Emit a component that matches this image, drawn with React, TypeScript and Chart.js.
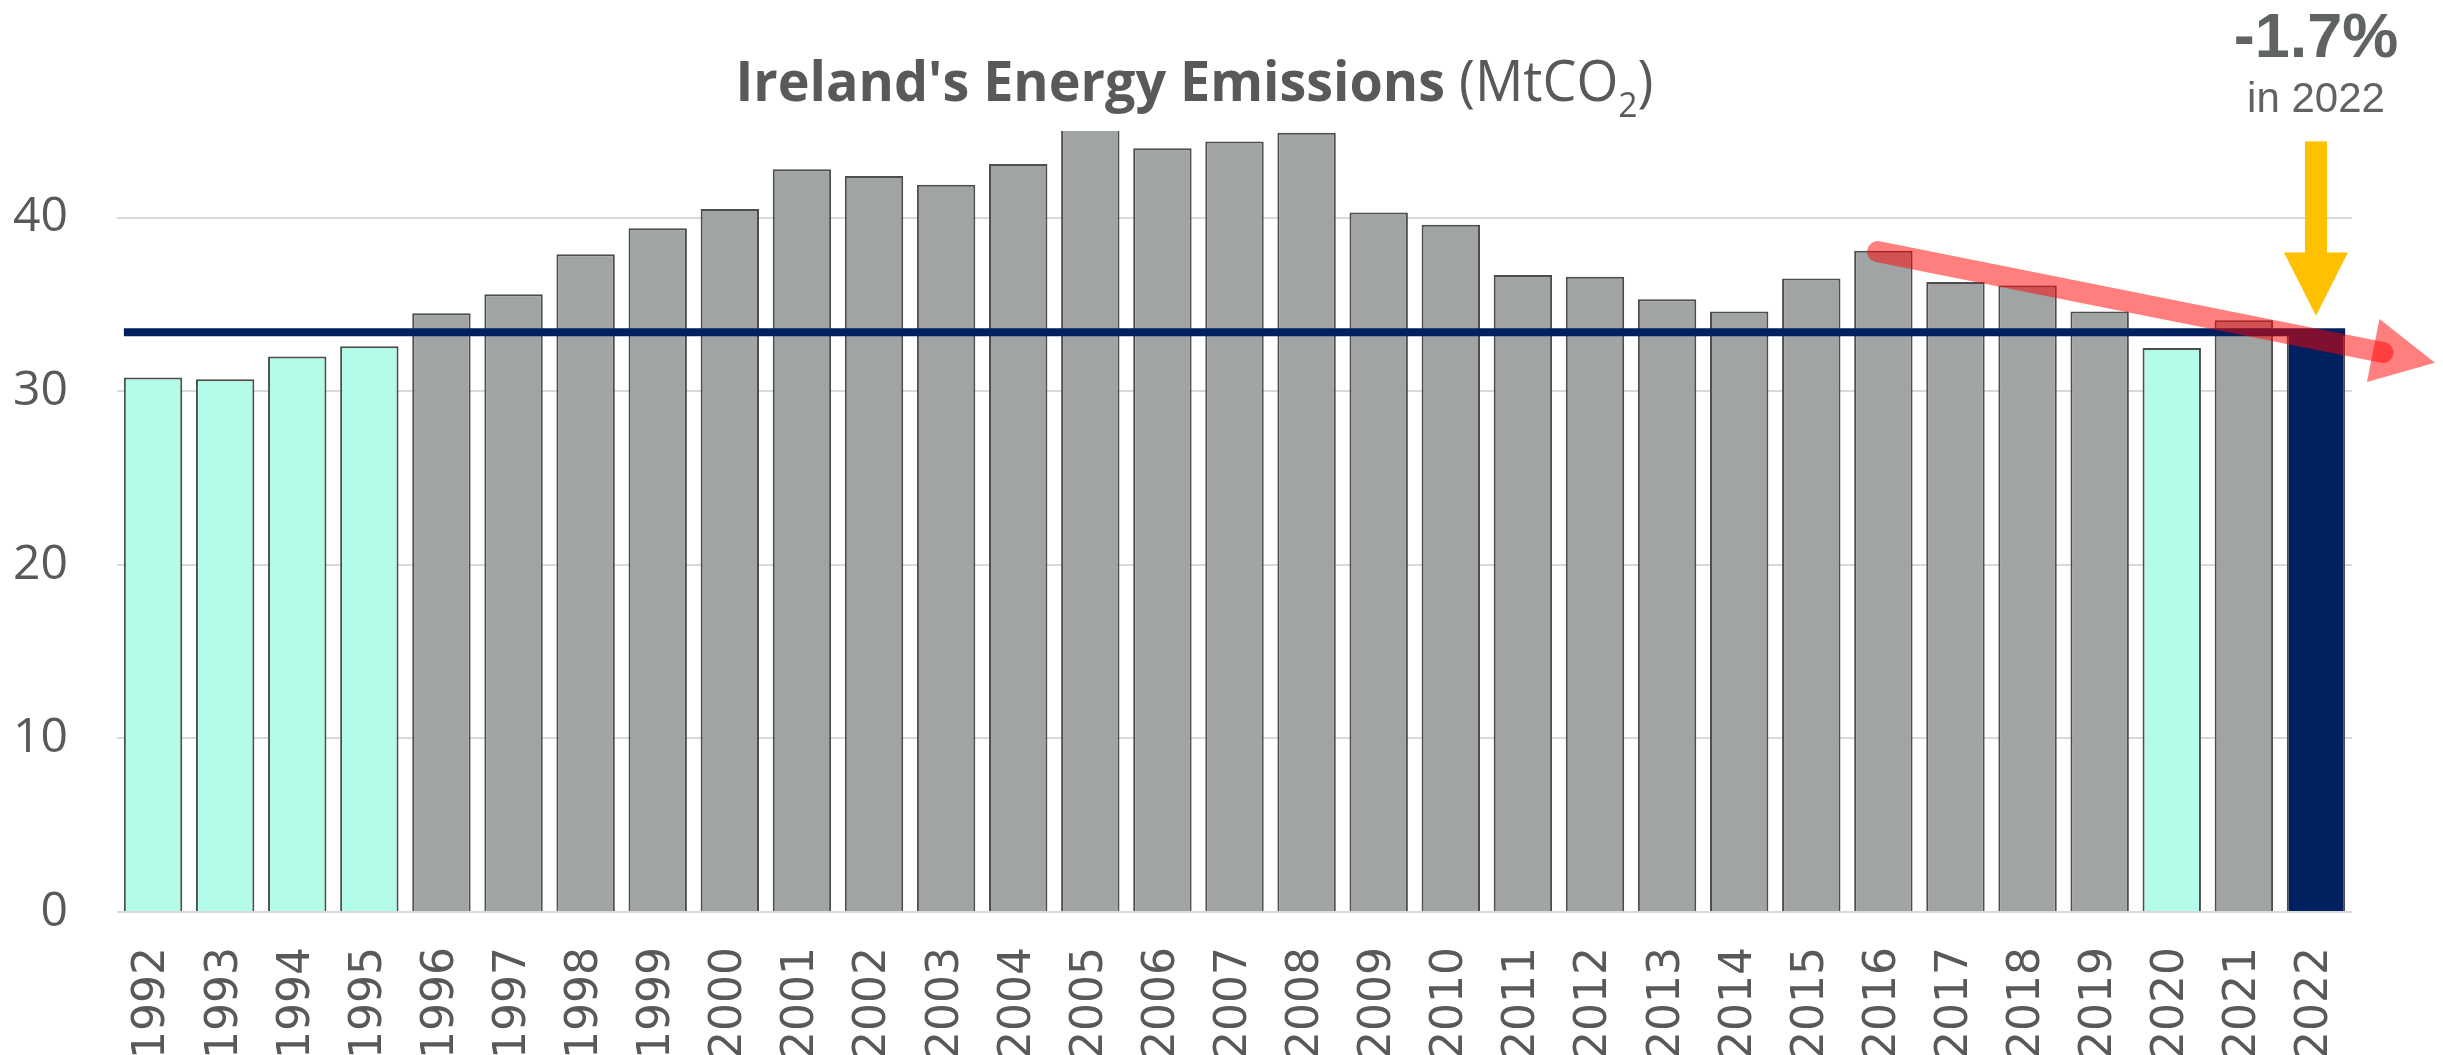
import React, { useEffect, useRef } from 'react';
import { Chart, registerables } from 'chart.js';

Chart.register(...registerables);

// ---- data ----
const years = [
  '1992', '1993', '1994', '1995', '1996', '1997', '1998', '1999', '2000', '2001',
  '2002', '2003', '2004', '2005', '2006', '2007', '2008', '2009', '2010', '2011',
  '2012', '2013', '2014', '2015', '2016', '2017', '2018', '2019', '2020', '2021', '2022',
];
const emissions = [
  30.8, 30.7, 32.0, 32.6, 34.5, 35.6, 37.9, 39.4, 40.5, 42.8,
  42.4, 41.9, 43.1, 45.2, 44.0, 44.4, 44.9, 40.3, 39.6, 36.7,
  36.6, 35.3, 34.6, 36.5, 38.1, 36.3, 36.1, 34.6, 32.5, 34.1, 33.4,
];
const lowYears = ['1992', '1993', '1994', '1995', '2020'];
const yTickValues = [0, 10, 20, 30, 40];
const yMax = 45;

const titleBold = "Ireland's Energy Emissions";
const titleUnit = '(MtCO';
const titleSub = '2';
const titleClose = ')';
const changeLabel = '-1.7%';
const changeYearLabel = 'in 2022';

// annotation anchors (category index, value)
const trendStart = { index: 23.92, value: 38.05 };
const trendEnd = { index: 30.93, value: 32.24 };
const pointerValues = { top: 44.4, headBase: 38.0, tip: 34.35 };

// ---- styles ----
const TEAL = '#B4FCEA';
const GRAY = '#A0A4A5';
const NAVY = '#002060';
const TEXT = '#595959';
const latestYear = years[years.length - 1];
const barColors = years.map((y) => (y === latestYear ? NAVY : lowYears.includes(y) ? TEAL : GRAY));

const overlayPlugin = {
  id: 'overlay',
  afterDatasetsDraw(chart: any) {
    const { ctx } = chart;
    const yScale = chart.scales.y;
    const meta = chart.getDatasetMeta(0);
    const first: any = meta.data[0];
    const last: any = meta.data[meta.data.length - 1];
    const yy = yScale.getPixelForValue(emissions[emissions.length - 1]);
    ctx.save();
    ctx.strokeStyle = NAVY;
    ctx.lineWidth = 8;
    ctx.beginPath();
    ctx.moveTo(first.x - first.width / 2, yy);
    ctx.lineTo(last.x + last.width / 2, yy);
    ctx.stroke();
    ctx.restore();
  },
  afterDraw(chart: any) {
    const { ctx, chartArea } = chart;
    const xScale = chart.scales.x;
    const yScale = chart.scales.y;
    ctx.save();

    // title
    const boldFont = 'bold 56px "Open Sans"';
    const normFont = '56px "Open Sans"';
    const subFont = '35px "Open Sans"';
    ctx.font = boldFont;
    const wb = ctx.measureText(titleBold).width;
    ctx.font = normFont;
    const ws = ctx.measureText(' ').width;
    const wn = ctx.measureText(titleUnit).width;
    const wc = ctx.measureText(titleClose).width;
    ctx.font = subFont;
    const wsub = ctx.measureText(titleSub).width;
    const total = wb + ws + wn + wsub + wc;
    const targetW = 918;
    const sx = targetW / total;
    const cx = chart.width / 2 - 27;
    const baseY = chartArea.top - 30;
    ctx.translate(cx - targetW / 2, baseY);
    ctx.scale(sx, 1);
    ctx.fillStyle = TEXT;
    ctx.textBaseline = 'alphabetic';
    ctx.textAlign = 'left';
    let px = 0;
    ctx.font = boldFont;
    ctx.fillText(titleBold, px, 0);
    px += wb + ws;
    ctx.font = normFont;
    ctx.fillText(titleUnit, px, 0);
    px += wn;
    ctx.font = subFont;
    ctx.fillText(titleSub, px, 16);
    px += wsub;
    ctx.font = normFont;
    ctx.fillText(titleClose, px, 0);
    ctx.setTransform(1, 0, 0, 1, 0, 0);

    // change annotation
    const lastIdx = years.length - 1;
    const ax = xScale.getPixelForValue(lastIdx);
    ctx.fillStyle = '#606363';
    ctx.textAlign = 'center';
    ctx.font = 'bold 63px "Liberation Sans"';
    ctx.fillText(changeLabel, ax, chartArea.top - 74);
    ctx.font = '42px "Liberation Sans"';
    ctx.fillText(changeYearLabel, ax, chartArea.top - 19);

    // yellow pointer
    const yTop = yScale.getPixelForValue(pointerValues.top);
    const yBase = yScale.getPixelForValue(pointerValues.headBase);
    const yTip = yScale.getPixelForValue(pointerValues.tip);
    ctx.fillStyle = '#FFC000';
    ctx.fillRect(ax - 11, yTop, 22, yBase - yTop + 1);
    ctx.beginPath();
    ctx.moveTo(ax - 32, yBase);
    ctx.lineTo(ax + 32, yBase);
    ctx.lineTo(ax, yTip);
    ctx.closePath();
    ctx.fill();

    // red trend arrow
    const p0 = { x: xScale.getPixelForValue(trendStart.index), y: yScale.getPixelForValue(trendStart.value) };
    const p1 = { x: xScale.getPixelForValue(trendEnd.index), y: yScale.getPixelForValue(trendEnd.value) };
    const dx = p1.x - p0.x;
    const dy = p1.y - p0.y;
    const len = Math.hypot(dx, dy);
    const ux = dx / len;
    const uy = dy / len;
    const nx = -uy;
    const ny = ux;
    ctx.strokeStyle = 'rgba(255,0,0,0.5)';
    ctx.fillStyle = 'rgba(255,0,0,0.5)';
    ctx.lineWidth = 21;
    ctx.lineCap = 'round';
    ctx.beginPath();
    ctx.moveTo(p0.x, p0.y);
    ctx.lineTo(p1.x, p1.y);
    ctx.stroke();
    const bm = { x: p1.x - ux * 10, y: p1.y - uy * 10 };
    ctx.beginPath();
    ctx.moveTo(bm.x + nx * 32, bm.y + ny * 32);
    ctx.lineTo(bm.x + ux * 63, bm.y + uy * 63);
    ctx.lineTo(bm.x - nx * 32, bm.y - ny * 32);
    ctx.closePath();
    ctx.fill();

    ctx.restore();
  },
};

export default function App() {
  const canvasRef = useRef<HTMLCanvasElement | null>(null);

  useEffect(() => {
    if (!canvasRef.current) return;
    const chart = new Chart(canvasRef.current, {
      type: 'bar',
      data: {
        labels: years,
        datasets: [
          {
            data: emissions,
            backgroundColor: barColors,
            borderColor: '#4d4d4d',
            borderWidth: 2,
            categoryPercentage: 1,
            barPercentage: 0.81,
          },
        ],
      },
      options: {
        responsive: false,
        animation: false,
        devicePixelRatio: 1,
        layout: { padding: { top: 131, right: 91, left: 0, bottom: 0 } },
        plugins: {
          legend: { display: false },
          title: { display: false },
          tooltip: { enabled: false },
        },
        scales: {
          x: {
            grid: { display: false, drawTicks: false },
            border: { display: false },
            ticks: {
              minRotation: 90,
              maxRotation: 90,
              autoSkip: false,
              padding: 35,
              color: TEXT,
              font: { family: '"DejaVu Sans"', size: 44 },
            },
            afterFit: (scale: any) => {
              scale.height = 148;
            },
          },
          y: {
            min: 0,
            max: yMax,
            grid: { color: '#D9D9D9', lineWidth: 2, drawTicks: false },
            border: { display: false },
            ticks: {
              stepSize: 10,
              padding: 49,
              color: TEXT,
              font: { family: '"Open Sans"', size: 48 },
            },
            afterBuildTicks: (scale: any) => {
              scale.ticks = yTickValues.map((v) => ({ value: v }));
            },
            afterFit: (scale: any) => {
              scale.width = 117;
            },
          },
        },
      },
      plugins: [overlayPlugin],
    });
    return () => chart.destroy();
  }, []);

  return (
    <div
      style={{
        position: 'fixed',
        left: 0,
        top: 0,
        width: 2443,
        height: 1055,
        overflow: 'hidden',
        background: '#ffffff',
      }}
    >
      <canvas ref={canvasRef} width={2443} height={1060} style={{ width: 2443, height: 1060, display: 'block' }} />
    </div>
  );
}
